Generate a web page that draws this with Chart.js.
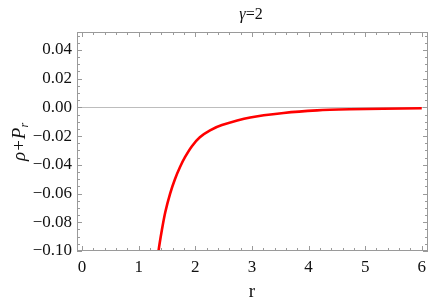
<!DOCTYPE html>
<html>
<head>
<meta charset="utf-8">
<script src="https://cdn.jsdelivr.net/npm/chart.js@4"></script>
<style>
  html, body { margin: 0; padding: 0; background: #fff; }
  #wrap { width: 436px; height: 304px; }
</style>
</head>
<body>
<div id="wrap"><canvas id="grafico" width="436" height="304"></canvas></div>
<script>
// datos
const rVals = [1.30, 1.35, 1.41, 1.47, 1.555, 1.64, 1.73, 1.82, 1.94, 2.08, 2.26, 2.47, 2.97, 3.56, 4.15, 4.73, 5.32, 6.00];
const rhoPr = [-0.118, -0.100, -0.0852, -0.0728, -0.0600, -0.0500, -0.0415, -0.0345, -0.0270, -0.0208, -0.0160, -0.0123, -0.0070, -0.0039, -0.0021, -0.0013, -0.0009, -0.0006];
const xTicks = [0, 1, 2, 3, 4, 5, 6];
const yTicks = [-0.10, -0.08, -0.06, -0.04, -0.02, 0.00, 0.02, 0.04];

const fuente = 'Liberation Serif';

// marco, marcas menores y textos al estilo Mathematica
const marcoPlugin = {
    id: 'marco',
    afterDraw(chart) {
        const ctx = chart.ctx;
        const a = chart.chartArea;
        const xs = chart.scales.x, ys = chart.scales.y;
        ctx.save();
        ctx.strokeStyle = '#9a9a9a';
        ctx.lineWidth = 1;
        ctx.strokeRect(a.left + 0.5, a.top + 0.5, a.right - a.left - 1, a.bottom - a.top - 1);

        ctx.beginPath();
        for (let i = 0; i <= 30; i++) {
            const v = i * 0.2;
            const px = Math.round(xs.getPixelForValue(v)) + 0.5;
            const len = (i % 5 === 0) ? 5 : 3;
            ctx.moveTo(px, a.bottom); ctx.lineTo(px, a.bottom - len);
            ctx.moveTo(px, a.top); ctx.lineTo(px, a.top + len);
        }
        for (let i = -20; i <= 10; i++) {
            const v = i * 0.005;
            const py = Math.round(ys.getPixelForValue(v)) + 0.5;
            const len = (i % 4 === 0) ? 5 : 3;
            ctx.moveTo(a.left, py); ctx.lineTo(a.left + len, py);
            ctx.moveTo(a.right, py); ctx.lineTo(a.right - len, py);
        }
        ctx.stroke();

        ctx.fillStyle = '#111';
        ctx.textBaseline = 'alphabetic';

        // título: γ en cursiva
        ctx.textAlign = 'left';
        ctx.font = 'italic 16px "Liberation Serif"';
        const wg = ctx.measureText('\u03b3').width;
        ctx.font = '16px "Liberation Serif"';
        const wr = ctx.measureText('=2').width;
        const tx = 251 - (wg + wr) / 2;
        ctx.font = 'italic 16px "Liberation Serif"';
        ctx.fillText('\u03b3', tx, 19);
        ctx.font = '16px "Liberation Serif"';
        ctx.fillText('=2', tx + wg, 19);

        ctx.textAlign = 'center';
        ctx.textBaseline = 'middle';
        ctx.font = '19px "Liberation Serif"';
        ctx.fillText('r', xs.getPixelForValue(3), 292);

        // etiqueta del eje y con subíndice
        ctx.translate(20, 142);
        ctx.rotate(-Math.PI / 2);
        ctx.textAlign = 'left';
        ctx.font = 'italic 19px "Liberation Serif"';
        const t1 = '\u03c1+P';
        const w1 = ctx.measureText(t1).width;
        ctx.font = 'italic 12px "Liberation Serif"';
        const w2 = ctx.measureText('r').width;
        const x0 = -(w1 + w2) / 2;
        ctx.font = 'italic 19px "Liberation Serif"';
        ctx.fillText(t1, x0, 0);
        ctx.font = 'italic 12px "Liberation Serif"';
        ctx.fillText('r', x0 + w1, 5);
        ctx.restore();
    }
};

new Chart(document.getElementById('grafico').getContext('2d'), {
    type: 'line',
    data: {
        datasets: [{
            data: rVals.map((r, i) => ({ x: r, y: rhoPr[i] })),
            borderColor: '#ff0000',
            borderWidth: 2.6,
            pointRadius: 0,
            fill: false,
            tension: 0.3
        }]
    },
    options: {
        responsive: false,
        animation: false,
        layout: { padding: { top: 32, right: 8, left: 0, bottom: 0 } },
        plugins: { legend: { display: false }, tooltip: { enabled: false } },
        scales: {
            x: {
                type: 'linear',
                min: -0.09,
                max: 6.11,
                afterBuildTicks: s => { s.ticks = xTicks.map(v => ({ value: v })); },
                afterFit: s => { s.height = 53; },
                grid: { display: false, drawTicks: false },
                border: { display: false },
                ticks: {
                    padding: 6,
                    color: '#111',
                    font: { family: fuente, size: 17 },
                    maxRotation: 0,
                    callback: v => String(v)
                }
            },
            y: {
                type: 'linear',
                min: -0.1,
                max: 0.0525,
                afterBuildTicks: s => { s.ticks = yTicks.map(v => ({ value: v })); },
                afterFit: s => { s.width = 77; },
                grid: {
                    drawTicks: false,
                    color: c => (c.tick && c.tick.value === 0) ? '#bdbdbd' : 'rgba(0,0,0,0)',
                    lineWidth: 1
                },
                border: { display: false },
                ticks: {
                    padding: 5,
                    color: '#111',
                    font: { family: fuente, size: 17 },
                    callback: v => (v < 0 ? '\u2212' : '') + Math.abs(v).toFixed(2)
                }
            }
        }
    },
    plugins: [marcoPlugin]
});
</script>
</body>
</html>
